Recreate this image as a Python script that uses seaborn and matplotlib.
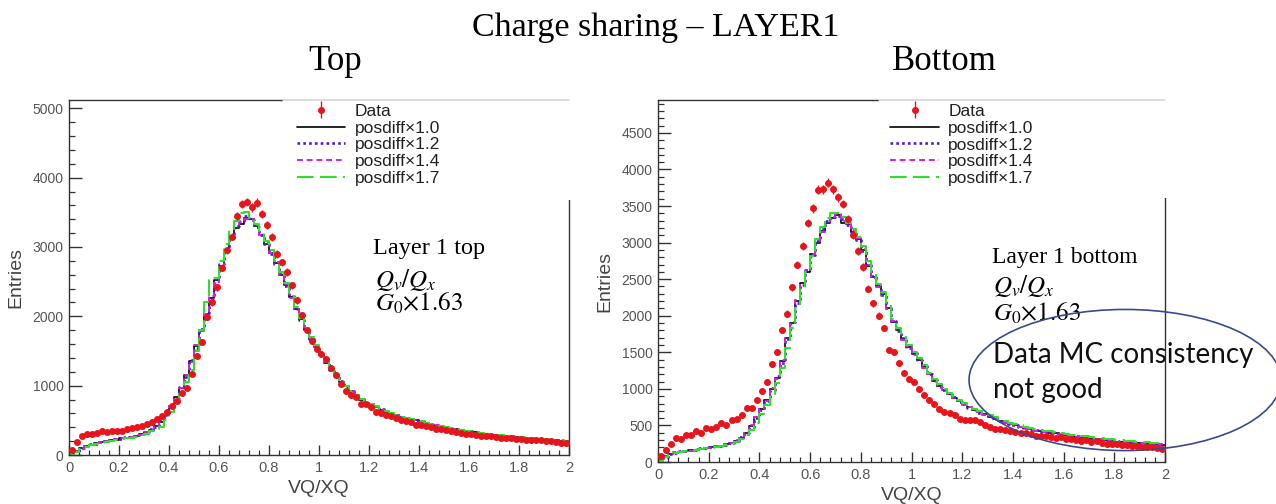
import numpy as np
import pandas as pd
import matplotlib
matplotlib.use("Agg")
import matplotlib.pyplot as plt
import seaborn as sns
from matplotlib.patches import Rectangle, Ellipse
from matplotlib.ticker import MultipleLocator, FuncFormatter

# bin edges of the VQ/XQ histograms (100 bins, 0 -> 2)
bin_edges = np.linspace(0, 2, 101)
bin_centers = 0.5 * (bin_edges[:-1] + bin_edges[1:])

# ---- Layer 1 top ----
top_data = [70, 190, 270, 300, 300, 320, 350, 330, 350, 340,
            350, 380, 390, 400, 420, 450, 480, 520, 560, 620,
            700, 780, 900, 970, 1170, 1430, 1630, 1990, 2200, 2420,
            2700, 2950, 3150, 3450, 3620, 3650, 3570, 3640, 3480, 3320,
            3140, 2900, 2780, 2640, 2450, 2230, 2020, 1800, 1650, 1530,
            1460, 1380, 1260, 1150, 1020, 920, 860, 840, 740, 730,
            690, 620, 600, 580, 560, 530, 500, 490, 470, 440,
            430, 420, 400, 380, 370, 360, 340, 330, 320, 310,
            300, 290, 280, 270, 270, 260, 250, 240, 240, 230,
            230, 220, 220, 210, 210, 200, 200, 190, 180, 180]
top_mc10 = [20, 60, 100, 130, 150, 170, 190, 200, 210, 220,
            240, 250, 260, 280, 300, 330, 360, 420, 480, 580,
            700, 830, 960, 1150, 1350, 1570, 1800, 2030, 2270, 2520,
            2720, 2930, 3140, 3280, 3330, 3420, 3400, 3300, 3180, 3050,
            2920, 2770, 2600, 2450, 2280, 2100, 1960, 1810, 1680, 1560,
            1440, 1330, 1240, 1150, 1060, 990, 920, 860, 800, 750,
            730, 690, 655, 625, 595, 570, 550, 530, 515, 500,
            480, 460, 440, 425, 410, 395, 380, 370, 355, 345,
            335, 325, 315, 305, 295, 290, 280, 275, 265, 260,
            250, 245, 240, 230, 225, 220, 215, 210, 205, 200]
top_mc12 = [25, 55, 95, 125, 155, 165, 185, 205, 215, 225,
            235, 255, 265, 275, 305, 325, 370, 410, 490, 570,
            690, 820, 980, 1130, 1370, 1550, 1820, 2050, 2250, 2540,
            2750, 2960, 3150, 3300, 3380, 3440, 3390, 3290, 3170, 3040,
            2900, 2760, 2610, 2440, 2290, 2110, 1950, 1820, 1670, 1550,
            1450, 1340, 1230, 1150, 1070, 980, 920, 870, 810, 755,
            725, 685, 660, 620, 600, 575, 545, 535, 510, 495,
            485, 465, 445, 420, 415, 390, 385, 365, 360, 345,
            340, 320, 315, 310, 295, 285, 285, 270, 270, 255,
            255, 240, 240, 235, 225, 225, 215, 210, 205, 195]
top_mc14 = [15, 65, 100, 135, 145, 175, 185, 195, 215, 225,
            240, 245, 265, 285, 295, 335, 355, 425, 470, 590,
            710, 810, 970, 1160, 1340, 1580, 1790, 2040, 2290, 2500,
            2730, 2950, 3120, 3310, 3360, 3400, 3410, 3310, 3170, 3060,
            2910, 2780, 2590, 2460, 2270, 2100, 1970, 1800, 1690, 1560,
            1430, 1340, 1240, 1140, 1060, 995, 925, 855, 805, 745,
            735, 690, 650, 630, 590, 575, 550, 525, 520, 500,
            475, 465, 440, 430, 405, 400, 375, 375, 355, 350,
            330, 330, 310, 310, 290, 295, 280, 280, 260, 265,
            250, 250, 235, 235, 225, 220, 220, 205, 210, 200]
top_mc17 = [15, 50, 90, 120, 140, 160, 180, 190, 205, 215,
            230, 240, 250, 265, 285, 310, 340, 380, 400, 500,
            620, 760, 880, 1050, 1230, 1500, 1800, 2200, 2540, 2560,
            2800, 3050, 3250, 3380, 3490, 3500, 3420, 3330, 3230, 3080,
            2950, 2800, 2640, 2480, 2300, 2130, 1980, 1830, 1700, 1580,
            1460, 1350, 1250, 1160, 1080, 1000, 930, 870, 810, 760,
            740, 700, 665, 630, 600, 580, 555, 535, 520, 505,
            485, 465, 450, 430, 415, 400, 385, 375, 360, 350,
            340, 330, 320, 310, 300, 295, 285, 280, 270, 265,
            255, 250, 245, 235, 230, 225, 220, 215, 210, 205]

# ---- Layer 1 bottom ----
bot_data = [80, 170, 245, 335, 310, 370, 365, 430, 400, 470,
            450, 475, 530, 500, 575, 585, 645, 735, 745, 850,
            970, 1090, 1340, 1500, 1800, 2030, 2390, 2700, 2960, 3270,
            3470, 3720, 3730, 3820, 3730, 3620, 3530, 3320, 3110, 2890,
            2670, 2370, 2170, 2000, 1830, 1530, 1510, 1350, 1220, 1130,
            1100, 1000, 920, 850, 790, 730, 680, 670, 640, 590,
            580, 570, 570, 550, 510, 480, 450, 450, 440, 420,
            410, 400, 390, 380, 360, 350, 350, 340, 330, 340,
            320, 310, 300, 290, 300, 270, 290, 260, 250, 250,
            240, 230, 230, 220, 220, 210, 200, 210, 190, 180]
bot_mc10 = [30, 80, 110, 130, 140, 150, 160, 170, 180, 190,
            200, 210, 220, 240, 260, 290, 330, 400, 490, 620,
            720, 850, 1000, 1150, 1380, 1700, 1900, 2200, 2450, 2600,
            2850, 3000, 3160, 3270, 3330, 3380, 3270, 3250, 3150, 3050,
            2900, 2680, 2530, 2400, 2300, 2100, 1920, 1800, 1680, 1570,
            1480, 1400, 1300, 1200, 1110, 1040, 980, 930, 880, 830,
            790, 750, 710, 680, 650, 620, 590, 560, 540, 520,
            500, 480, 460, 445, 430, 420, 410, 400, 390, 375,
            365, 355, 345, 335, 330, 320, 310, 305, 295, 290,
            280, 275, 270, 265, 260, 255, 250, 245, 240, 235]
bot_mc12 = [25, 75, 105, 125, 145, 155, 165, 170, 185, 195,
            205, 215, 225, 235, 265, 285, 340, 390, 480, 600,
            710, 830, 980, 1170, 1360, 1680, 1920, 2180, 2420, 2620,
            2830, 3020, 3180, 3290, 3350, 3370, 3320, 3240, 3140, 3040,
            2890, 2700, 2540, 2410, 2290, 2110, 1930, 1790, 1690, 1560,
            1490, 1390, 1310, 1200, 1120, 1030, 985, 925, 885, 825,
            795, 745, 715, 675, 655, 615, 595, 555, 545, 515,
            505, 475, 465, 440, 435, 415, 415, 395, 395, 370,
            370, 350, 350, 330, 335, 315, 315, 300, 300, 285,
            285, 270, 275, 260, 265, 250, 255, 240, 245, 230]
bot_mc14 = [35, 85, 115, 135, 135, 155, 155, 175, 175, 195,
            195, 215, 215, 245, 255, 295, 325, 410, 500, 610,
            730, 840, 1010, 1140, 1400, 1690, 1890, 2210, 2440, 2610,
            2840, 3010, 3150, 3280, 3320, 3390, 3290, 3260, 3160, 3060,
            2910, 2690, 2520, 2390, 2310, 2090, 1930, 1810, 1670, 1580,
            1470, 1410, 1290, 1210, 1100, 1050, 975, 935, 875, 835,
            785, 755, 705, 685, 645, 625, 585, 565, 535, 525,
            495, 485, 455, 450, 425, 425, 405, 405, 385, 380,
            360, 360, 340, 340, 325, 325, 305, 310, 290, 295,
            275, 280, 265, 270, 255, 260, 245, 250, 235, 240]
bot_mc17 = [20, 70, 100, 120, 135, 145, 155, 165, 175, 185,
            195, 205, 215, 230, 250, 275, 310, 370, 440, 540,
            650, 780, 930, 1080, 1290, 1560, 1830, 2100, 2380, 2600,
            2820, 3050, 3220, 3340, 3410, 3400, 3350, 3270, 3180, 3080,
            2950, 2750, 2580, 2440, 2320, 2140, 1960, 1830, 1710, 1600,
            1510, 1420, 1320, 1220, 1130, 1060, 1000, 950, 900, 850,
            810, 770, 730, 700, 670, 640, 610, 580, 560, 540,
            520, 500, 480, 465, 450, 440, 430, 420, 410, 395,
            385, 375, 365, 355, 350, 340, 330, 325, 315, 310,
            300, 295, 290, 285, 280, 275, 270, 265, 260, 255]

mc_labels = ["posdiff\u00d71.0", "posdiff\u00d71.2", "posdiff\u00d71.4", "posdiff\u00d71.7"]
mc_colors = ["black", "#5018d8", "#d81ee0", "#2ee02e"]
mc_styles = ["-", (0, (1, 1.2)), (0, (3, 2)), (0, (8, 3))]
mc_widths = [1.2, 1.9, 1.4, 1.5]

sns.set_style("ticks")
plt.rcParams["font.family"] = ["Liberation Sans", "DejaVu Sans"]
plt.rcParams["mathtext.fontset"] = "stix"
plt.rcParams["text.color"] = "black"

fig = plt.figure(figsize=(12.76, 5.04), dpi=100)
ax1 = fig.add_axes([0.0541, 0.0972, 0.3918, 0.7044])
ax2 = fig.add_axes([0.5157, 0.0833, 0.3973, 0.7183])


def draw_panel(ax, data, mcs, ymax, ymajor, yminor, box_x, box_y, leg_x):
    handles = []
    for vals, lab, col, ls, lw in zip(mcs, mc_labels, mc_colors, mc_styles, mc_widths):
        df = pd.DataFrame({"vqxq": bin_centers, "entries": vals})
        sns.histplot(data=df, x="vqxq", weights="entries", bins=list(bin_edges),
                     element="step", fill=False, color=col, linestyle=ls,
                     linewidth=lw, ax=ax)
        handles.append(plt.Line2D([], [], color=col, linestyle=ls, linewidth=lw))
    d = np.array(data, dtype=float)
    eb = ax.errorbar(bin_centers, d, yerr=np.sqrt(d), fmt="o", color="#e8141c",
                     ms=4.0, elinewidth=1.0, capsize=0, zorder=3)
    ax.set_xlim(0, 2)
    ax.set_ylim(0, ymax)
    ax.xaxis.set_major_locator(MultipleLocator(0.2))
    ax.xaxis.set_minor_locator(MultipleLocator(0.04))
    ax.yaxis.set_major_locator(MultipleLocator(ymajor))
    ax.yaxis.set_minor_locator(MultipleLocator(yminor))
    ax.xaxis.set_major_formatter(FuncFormatter(lambda v, p: "%g" % round(v, 2)))
    ax.tick_params(axis="y", which="major", direction="in", length=9, width=1.0,
                   labelsize=10, labelcolor="#555555", color="#333333", pad=4)
    ax.tick_params(axis="y", which="minor", direction="in", length=4.5, width=0.9,
                   color="#333333")
    ax.tick_params(axis="x", which="major", direction="in", length=7, width=1.0,
                   labelsize=10.5, labelcolor="#555555", color="#333333", pad=4)
    ax.tick_params(axis="x", which="minor", direction="in", length=3.5, width=0.9,
                   color="#333333")
    for s in ax.spines.values():
        s.set_color("#333333")
        s.set_linewidth(1.0)
    ax.set_xlabel("VQ/XQ", fontsize=14, color="#444444", labelpad=4)
    ax.set_ylabel("Entries", fontsize=14, color="#444444", labelpad=6)

    # white legend box hiding the upper right part of the frame
    ax.add_patch(Rectangle((box_x, box_y), 1.02 - box_x, 1.02 - box_y,
                           transform=ax.transAxes, facecolor="white",
                           edgecolor="none", zorder=4, clip_on=False))
    ax.plot([box_x, 1.0], [1.0, 1.0], transform=ax.transAxes, color="#d6d6d6",
            lw=1.2, clip_on=False, zorder=4.2)
    leg = ax.legend([eb] + handles, ["Data"] + mc_labels, loc="upper left",
                    bbox_to_anchor=(leg_x, 0.99), frameon=False, fontsize=12.5,
                    handlelength=2.8, handletextpad=0.55, labelspacing=0.1,
                    borderpad=0, borderaxespad=0)
    for t in leg.get_texts():
        t.set_color("#222222")
    leg.set_zorder(6)


draw_panel(ax1, top_data, [top_mc10, top_mc12, top_mc14, top_mc17],
           5120, 1000, 200, 0.428, 0.718, 0.455)
draw_panel(ax2, bot_data, [bot_mc10, bot_mc12, bot_mc14, bot_mc17],
           4950, 500, 100, 0.436, 0.729, 0.458)

# titles
serif = ["Liberation Serif", "DejaVu Serif"]
fig.text(0.514, 0.944, "Charge sharing \u2013 LAYER1", ha="center", va="center",
         fontsize=24.5, family=serif)
fig.text(0.263, 0.877, "Top", ha="center", va="center", fontsize=25, family=serif)
fig.text(0.740, 0.877, "Bottom", ha="center", va="center", fontsize=25, family=serif)

# annotations
fig.text(0.2923, 0.506, "Layer 1 top", ha="left", va="center", fontsize=17.5, family=serif)
fig.text(0.2935, 0.445, r"$Q_v/Q_x$", ha="left", va="center", fontsize=18)
fig.text(0.2935, 0.399, r"$G_0{\times}1.63$", ha="left", va="center", fontsize=18)

fig.text(0.7774, 0.490, "Layer 1 bottom", ha="left", va="center", fontsize=17, family=serif)
fig.text(0.7782, 0.4325, r"$Q_v/Q_x$", ha="left", va="center", fontsize=18)
fig.text(0.7782, 0.379, r"$G_0{\times}1.63$", ha="left", va="center", fontsize=18)

fig.text(0.7782, 0.296, "Data MC consistency", ha="left", va="center", fontsize=20,
         family=["Lato", "DejaVu Sans"], color="#111111")
fig.text(0.7782, 0.226, "not good", ha="left", va="center", fontsize=20,
         family=["Lato", "DejaVu Sans"], color="#111111")

fig.patches.append(Ellipse((0.8817, 0.246), 0.2445, 0.280, transform=fig.transFigure,
                           facecolor="none", edgecolor="#3c4a8c", lw=1.2, zorder=10))

fig.savefig("out.png", dpi=100)
